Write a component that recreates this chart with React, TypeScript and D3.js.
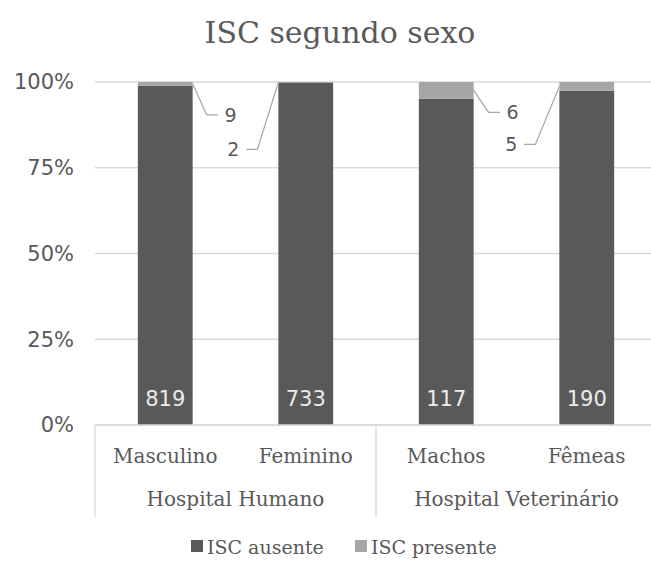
import React from 'react'
import * as d3 from 'd3'

const categories = ['Masculino', 'Feminino', 'Machos', 'Fêmeas']
const groups = ['Hospital Humano', 'Hospital Veterinário']
const groupOf = [0, 0, 1, 1]
const ausente = [819, 733, 117, 190]
const presente = [9, 2, 6, 5]
const seriesNames = ['ISC ausente', 'ISC presente']
const yTicks = [0, 0.25, 0.5, 0.75, 1]

// manual placement of the small labels (like dragged labels in the sheet)
const smallLabelPlacement = [
  { side: 1, dx: 38, dy: 31 },
  { side: -1, dx: 45, dy: 67 },
  { side: 1, dx: 39, dy: 22 },
  { side: -1, dx: 48, dy: 58 },
]

const W = 651
const H = 564
const DARK = '#595959'
const LIGHT = '#a6a6a6'
const TEXT = '#595959'
const GRID = '#d9d9d9'
const SERIF = '"DejaVu Serif", "Liberation Serif", serif'
const SANS = '"DejaVu Sans", sans-serif'

export default function App() {
  const x = d3.scaleBand<string>().domain(categories).range([95, 657]).paddingInner(0.61).paddingOuter(0.305)
  const y = d3.scaleLinear().domain([0, 1]).range([425, 82])
  const pct = d3.format('.0%')

  const rows = categories.map((c, i) => {
    const total = ausente[i] + presente[i]
    return { c, i, a: ausente[i] / total, p: presente[i] / total }
  })

  const step = x.step()
  const x0 = x.range()[0]
  const groupBounds = groups.map((g, gi) => {
    const idx = categories.map((_, i) => i).filter(i => groupOf[i] === gi)
    return { g, left: x0 + step * idx[0], right: x0 + step * (idx[idx.length - 1] + 1) }
  })

  return (
    <svg width={W} height={H} style={{ position: 'absolute', left: 0, top: 0, background: '#fff' }}>
      <text x={340} y={43} textAnchor="middle" fontFamily={SERIF} fontSize={30} fill={TEXT}>
        ISC segundo sexo
      </text>

      {yTicks.map(t => (
        <g key={t}>
          <line x1={95} x2={W} y1={y(t)} y2={y(t)} stroke={GRID} strokeWidth={1.3} />
          <text x={74} y={y(t)} dy="0.35em" textAnchor="end" fontFamily={SANS} fontSize={21} fill={TEXT}>
            {pct(t)}
          </text>
        </g>
      ))}

      {rows.map(r => {
        const bx = x(r.c)!
        const bw = x.bandwidth()
        return (
          <g key={r.c}>
            <rect x={bx} y={y(r.a)} width={bw} height={y(0) - y(r.a)} fill={DARK} />
            <rect x={bx} y={y(1)} width={bw} height={y(r.a) - y(1)} fill={LIGHT} />
            <text x={bx + bw / 2} y={y(0) - 27} dy="0.36em" textAnchor="middle"
              fontFamily={SANS} fontSize={21} fill="#ececec">
              {ausente[r.i]}
            </text>
          </g>
        )
      })}

      {rows.map(r => {
        const pl = smallLabelPlacement[r.i]
        const bx = x(r.c)!
        const bw = x.bandwidth()
        const ax = pl.side > 0 ? bx + bw : bx
        const ay = y(1 - r.p / 2)
        const lx = ax + pl.side * pl.dx
        const ly = ay + pl.dy
        const elbow = ax + pl.side * (pl.dx - 24)
        const knee = ax + pl.side * (pl.dx - 13)
        const pts = [[ax, ay], [elbow, ly], [knee, ly]]
        return (
          <g key={'s' + r.c}>
            <polyline points={pts.map(p => p.join(',')).join(' ')} fill="none" stroke="#a6a6a6" strokeWidth={1.2} />
            <text x={lx} y={ly} dy="0.36em" textAnchor="middle" fontFamily={SANS} fontSize={19} fill={TEXT}>
              {presente[r.i]}
            </text>
          </g>
        )
      })}

      {/* category axis box */}
      <line x1={95} x2={W} y1={y(0)} y2={y(0)} stroke={GRID} strokeWidth={1.3} />
      {groupBounds.map(gb => (
        <g key={gb.g}>
          <line x1={gb.left} x2={gb.left} y1={y(0)} y2={517} stroke={GRID} strokeWidth={1.3} />
          <text x={(gb.left + gb.right) / 2} y={499} dy="0.35em" textAnchor="middle" fontFamily={SERIF} fontSize={20} fill={TEXT}>
            {gb.g}
          </text>
        </g>
      ))}
      {categories.map(c => (
        <text key={c} x={x(c)! + x.bandwidth() / 2} y={456} dy="0.35em" textAnchor="middle" fontFamily={SERIF} fontSize={20} fill={TEXT}>
          {c}
        </text>
      ))}

      {/* legend */}
      {seriesNames.map((s, i) => {
        const lx = [191, 355][i]
        return (
          <g key={s}>
            <rect x={lx} y={540} width={12} height={12} fill={i === 0 ? DARK : LIGHT} />
            <text x={lx + 16} y={547} dy="0.35em" fontFamily={SERIF} fontSize={19} fill={TEXT}>
              {s}
            </text>
          </g>
        )
      })}
    </svg>
  )
}
